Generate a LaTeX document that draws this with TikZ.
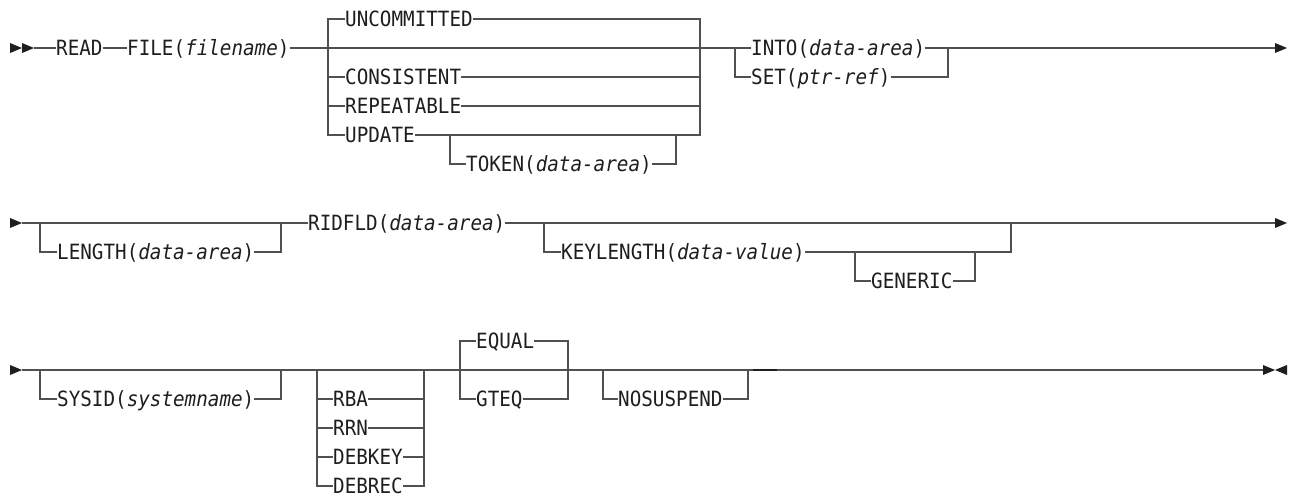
\documentclass[tikz,border=0pt]{standalone}
\usepackage{fontspec}
\setmonofont{DejaVu Sans Mono}[FakeStretch=0.917]
\usetikzlibrary{positioning,calc}
\definecolor{railgray}{HTML}{505050}
\definecolor{ink}{HTML}{1E1E1E}
% filled syntax arrowheads, base at x, pointing right / left
\newcommand\tipright[2]{\fill[ink] (#1,#2-5) -- (#1+12,#2) -- (#1,#2+5) -- cycle;}
\newcommand\tipleft[2]{\fill[ink] (#1,#2) -- (#1+12,#2-5) -- (#1+12,#2+5) -- cycle;}

\begin{document}
\begin{tikzpicture}[x=1pt, y=-1pt,
  kw/.style={inner sep=0pt, anchor=west, text height=18.3pt, text depth=3pt, text=ink, font=\ttfamily\fontsize{21pt}{25pt}\selectfont},
  ln/.style={draw=railgray, line width=1.6pt}
]
\path[fill=white] (0,0) rectangle (1296,498);
\useasboundingbox (0,0) rectangle (1296,498);

% ---- row 1
\tipright{10}{48}
\tipright{22}{48}
\coordinate (s1) at (34,48);
\node[kw] (read) at (56,48) {READ};
\node[kw] (file) at (127,48) {FILE(\textit{filename})};
\coordinate (isoL) at (328,48);
\coordinate (isoR) at (700,48);
\node[kw] (uncom) at (345,19) {UNCOMMITTED};
\node[kw] (cons) at (345,77) {CONSISTENT};
\node[kw] (rep) at (345,106) {REPEATABLE};
\node[kw] (upd) at (345,135) {UPDATE};
\coordinate (tokL) at (450,135);
\coordinate (tokR) at (676,135);
\node[kw] (tok) at (466,164) {TOKEN(\textit{data-area})};
\coordinate (intoL) at (735,48);
\coordinate (intoR) at (948,48);
\node[kw] (into) at (751,48) {INTO(\textit{data-area})};
\node[kw] (set) at (751,77) {SET(\textit{ptr-ref})};
\coordinate (e1) at (1275,48);

\draw[ln] (s1) -- (read.west);
\draw[ln] (read.east) -- (file.west);
\draw[ln] (file.east) -- (into.west);
\draw[ln] (uncom.west) -| (isoL) |- (upd.west);
\draw[ln] (isoL) |- (cons.west);
\draw[ln] (isoL) |- (rep.west);
\draw[ln] (uncom.east) -| (isoR) |- (upd.east);
\draw[ln] (cons.east) -- (cons.east -| isoR);
\draw[ln] (rep.east) -- (rep.east -| isoR);
\draw[ln] (tokL) |- (tok.west);
\draw[ln] (tok.east) -| (tokR);
\draw[ln] (intoL) |- (set.west);
\draw[ln] (set.east) -| (intoR);
\draw[ln] (into.east) -- (e1);
\tipright{1275}{48}

% ---- row 2
\tipright{10}{223}
\coordinate (s2) at (22,223);
\coordinate (lenL) at (40,223);
\coordinate (lenR) at (281,223);
\node[kw] (len) at (57,252) {LENGTH(\textit{data-area})};
\node[kw] (rid) at (308,223) {RIDFLD(\textit{data-area})};
\coordinate (keyL) at (544,223);
\coordinate (keyR) at (1011,223);
\node[kw] (key) at (561,252) {KEYLENGTH(\textit{data-value})};
\coordinate (genL) at (855,252);
\coordinate (genR) at (975,252);
\node[kw] (gen) at (871,281) {GENERIC};
\coordinate (e2) at (1275,223);

\draw[ln] (s2) -- (rid.west);
\draw[ln] (lenL) |- (len.west);
\draw[ln] (len.east) -| (lenR);
\draw[ln] (rid.east) -- (e2);
\draw[ln] (keyL) |- (key.west);
\draw[ln] (key.east) -| (keyR);
\draw[ln] (genL) |- (gen.west);
\draw[ln] (gen.east) -| (genR);
\tipright{1275}{223}

% ---- row 3
\tipright{10}{370}
\coordinate (s3) at (22,370);
\coordinate (sysL) at (40,370);
\coordinate (sysR) at (281,370);
\node[kw] (sys) at (57,399) {SYSID(\textit{systemname})};
\coordinate (rbaL) at (317,370);
\coordinate (rbaR) at (424,370);
\node[kw] (rba) at (333,399) {RBA};
\node[kw] (rrn) at (333,428) {RRN};
\node[kw] (debkey) at (333,457) {DEBKEY};
\node[kw] (debrec) at (333,486) {DEBREC};
\coordinate (eqL) at (460,370);
\coordinate (eqR) at (568,370);
\node[kw] (equal) at (476,341) {EQUAL};
\node[kw] (gteq) at (476,399) {GTEQ};
\coordinate (nosL) at (603,370);
\coordinate (nosR) at (748,370);
\node[kw] (nosus) at (618,399) {NOSUSPEND};
\coordinate (bumpA) at (753,370);
\coordinate (bumpB) at (777,370);
\coordinate (e3) at (1263,370);

\draw[ln] (s3) -- (e3);
\draw[ln] (sysL) |- (sys.west);
\draw[ln] (sys.east) -| (sysR);
\draw[ln] (rbaL) |- (debrec.west);
\draw[ln] (rbaL) |- (rba.west);
\draw[ln] (rbaL) |- (rrn.west);
\draw[ln] (rbaL) |- (debkey.west);
\draw[ln] (debrec.east) -| (rbaR);
\draw[ln] (rba.east) -- (rba.east -| rbaR);
\draw[ln] (rrn.east) -- (rrn.east -| rbaR);
\draw[ln] (debkey.east) -- (debkey.east -| rbaR);
\draw[ln] (equal.west) -| (eqL) |- (gteq.west);
\draw[ln] (equal.east) -| (eqR) |- (gteq.east);
\draw[ln] (nosL) |- (nosus.west);
\draw[ln] (nosus.east) -| (nosR);
\draw[ln, draw=ink, line width=2.6pt] (bumpA) -- (bumpB);
\tipright{1263}{370}
\tipleft{1275}{370}
\end{tikzpicture}
\end{document}
